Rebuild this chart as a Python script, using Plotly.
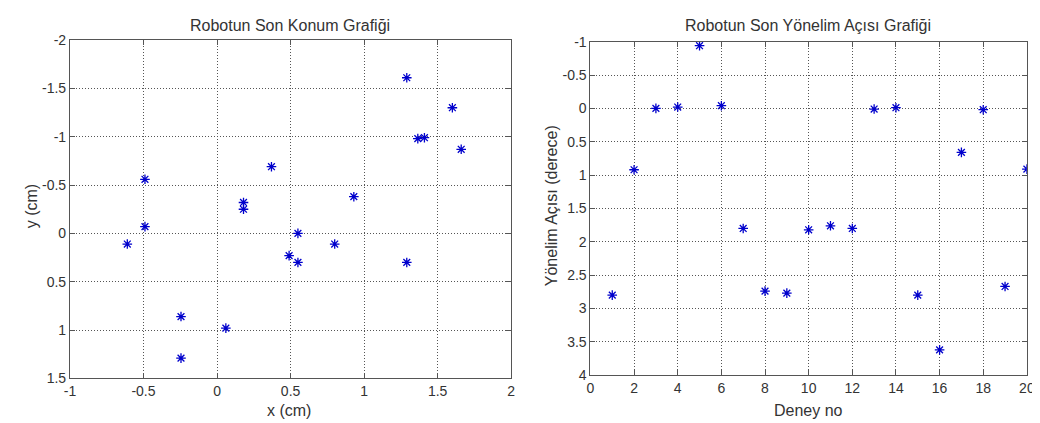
import plotly.graph_objects as go

# Left chart: final position of robot
pos_x = [1.29, 1.60, 1.365, 1.41, 1.66, -0.49, 0.37, 0.18, 0.18, 0.93,
         -0.49, -0.61, 0.55, 0.49, 0.55, 0.80, 1.29, -0.245, 0.06, -0.245]
pos_y = [-1.61, -1.30, -0.98, -0.99, -0.87, -0.56, -0.69, -0.32, -0.25, -0.38,
         -0.07, 0.11, 0.00, 0.23, 0.30, 0.11, 0.30, 0.86, 0.98, 1.29]

# Right chart: final heading angle per experiment
deney_no = list(range(1, 21))
yonelim = [2.80, 0.92, 0.00, -0.02, -0.94, -0.04, 1.80, 2.74, 2.77, 1.82,
           1.76, 1.80, 0.01, -0.01, 2.80, 3.62, 0.66, 0.02, 2.67, 0.91]

left_xticks = [-1, -0.5, 0, 0.5, 1, 1.5, 2]
left_yticks = [-2, -1.5, -1, -0.5, 0, 0.5, 1, 1.5]
right_xticks = [0, 2, 4, 6, 8, 10, 12, 14, 16, 18, 20]
right_yticks = [-1, -0.5, 0, 0.5, 1, 1.5, 2, 2.5, 3, 3.5, 4]

FONT = "Liberation Sans, Arial, sans-serif"
TXT = "#333333"
marker = dict(symbol="asterisk-open", size=8, color="#0000cc",
              line=dict(color="#0000cc", width=1.3))

fig = go.Figure()
fig.add_trace(go.Scatter(x=pos_x, y=pos_y, mode="markers", marker=marker,
                         xaxis="x", yaxis="y", showlegend=False))
fig.add_trace(go.Scatter(x=deney_no, y=yonelim, mode="markers", marker=marker,
                         xaxis="x2", yaxis="y2", showlegend=False))

def ax(**kw):
    d = dict(showline=True, linecolor="#555555", linewidth=1, mirror="ticks",
             ticks="inside", ticklen=5, tickcolor="#555555", tickwidth=1,
             showgrid=True, gridcolor="#555555", griddash="1px,2px", gridwidth=1,
             zeroline=False, tickfont=dict(family=FONT, size=14, color=TXT),
             fixedrange=True)
    d.update(kw)
    return d

fig.update_layout(
    width=1040, height=423,
    margin=dict(l=0, r=0, t=0, b=0),
    paper_bgcolor="white", plot_bgcolor="white",
    font=dict(family=FONT, size=14, color=TXT),
    xaxis=ax(domain=[56.7/1040, 504/1040], range=[-1, 2],
             tickvals=left_xticks, ticktext=[f"{v:g}" for v in left_xticks],
             anchor="y"),
    yaxis=ax(domain=[1-376.7/423, 1-25/423], range=[1.5, -2],
             tickvals=left_yticks, ticktext=[f"{v:g}" for v in left_yticks],
             anchor="x"),
    xaxis2=ax(domain=[584.3/1040, 1026.7/1040], range=[0, 20],
              tickvals=right_xticks, ticktext=[f"{v:g}" for v in right_xticks],
              anchor="y2"),
    yaxis2=ax(domain=[1-373.3/423, 1-26.7/423], range=[4, -1],
              tickvals=right_yticks, ticktext=[f"{v:g}" for v in right_yticks],
              anchor="x2"),
)

def ann(text, x, y, angle=0):
    fig.add_annotation(text=text, x=x/1040, y=1-y/423, xref="paper", yref="paper",
                       showarrow=False, textangle=angle,
                       font=dict(family=FONT, size=16, color=TXT),
                       xanchor="center", yanchor="middle")

ann("Robotun Son Konum Grafiği", 280, 10)
ann("Robotun Son Yönelim Açısı Grafiği", 805, 10)
ann("x (cm)", 279, 410)
ann("Deney no", 805, 410)
ann("y (cm)", 18, 198, -90)
ann("Yönelim Açısı (derece)", 545, 197, -90)

fig.write_html("out.html")
